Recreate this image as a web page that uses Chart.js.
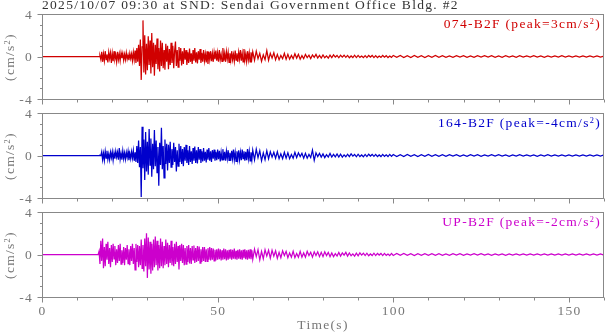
<!DOCTYPE html>
<html>
<head>
<meta charset="utf-8">
<script src="https://cdn.jsdelivr.net/npm/chart.js@4.4.1/dist/chart.umd.min.js"></script>
<style>
  html, body { margin: 0; padding: 0; background: #fff; }
  #wrap { position: relative; width: 605px; height: 334px; overflow: hidden; }
  #wrap canvas { position: absolute; left: 0; top: 0; }
  .txt {
    position: absolute; white-space: nowrap;
    font-family: "Liberation Serif", "DejaVu Serif", serif;
    font-size: 13.5px; line-height: 13.5px; letter-spacing: 1.3px;
  }
  .sup { font-size: 0.62em; position: relative; top: -0.5em; }
  .ytitle { color: #777; transform: translate(-50%, -50%) rotate(-90deg); }
</style>
</head>
<body>
<div id="wrap">
  <canvas id="p0" width="605" height="334"></canvas>
  <canvas id="p1" width="605" height="334"></canvas>
  <canvas id="p2" width="605" height="334"></canvas>
  <div class="txt" id="title" style="left:42px; top:-2px; color:#333;">2025/10/07 09:30 at SND: Sendai Government Office Bldg. #2</div>
  <div class="txt" id="xtitle" style="left:323px; top:318px; color:#777; transform:translateX(-50%);">Time(s)</div>
</div>

<script>
// channel names
const channels = ["074-B2F", "164-B2F", "UP-B2F"];

// axis ticks
const xTickLabels = [0, 50, 100, 150];
const xMinorStep = 10;
const yTickLabels = [-4, 0, 4];
const yMinorStep = 1;

// sampling of the stored pieces (seconds): fine / medium / coarse
const FINE_START = 16, FINE_DT = 0.25;   // 16 .. 59.75
const MID_START = 60, MID_DT = 0.5;      // 60 .. 99.5
const TAIL_START = 100, TAIL_DT = 1;     // 100 .. 160

// ---- 074-B2F (cm/s2) ----
const ew074Fine = [
  0, 0, 0.05, -0.3, 0.45, -0.5, 0.25, -0.4,
  0.5, -0.3, 0.2, -0.55, 0.4, -0.2, 0.35, -0.6,
  0.3, -0.45, 0.5, -0.25, 0.15, -0.5, 0.45, -0.3,
  0.25, -0.4, 0.35, -0.15, 0.3, -0.35, 0.2, -0.3,
  0.35, -0.25, 0.15, -0.35, 0.3, -0.2, 0.25, -0.4,
  0.4, -0.3, 0.55, -0.6, 0.8, -0.5, 1.1, -0.9,
  1.6, -2.2, 0.9, 3.4, -1.5, 2.0, -1.7, 1.2,
  -1.3, 1.9, -0.8, 1.5, -1.6, 2.2, -1.0, 1.3,
  -1.8, 1.1, -0.7, 1.7, -1.2, 0.8, -1.4, 1.5,
  -0.9, 1.3, -1.1, 0.6, -1.25, 1.2, -0.5, 1.0,
  -1.2, 0.7, -0.8, 1.3, -0.6, 1.0, -1.1, 0.5,
  1.4, -0.9, 0.6, -1.0, 0.9, -0.4, 0.8, -0.85,
  0.5, -0.7, 0.8, -0.3, 0.6, -0.8, 0.4, -0.6,
  0.75, -0.5, 0.3, -0.7, 0.6, -0.4, 0.8, -0.55,
  0.4, -0.65, 0.5, -0.3, 0.7, -0.6, 0.35, -0.5,
  0.6, -0.4, 0.25, -0.55, 0.5, -0.7, 0.45, -0.3,
  0.5, -0.45, 0.3, -0.5, 0.4, -0.25, 0.55, -0.4,
  0.35, -0.5, 0.6, -0.3, 0.2, -0.45, 0.8, -0.4,
  0.3, -0.5, 0.45, -0.25, 0.4, -0.55, 0.3, -0.35,
  0.5, -0.3, 0.2, -0.45, 0.55, -0.35, 0.3, -0.5,
  0.4, -0.25, 0.6, -0.4, 0.3, -0.5, 0.7, -0.35,
  0.25, -0.45, 0.5, -0.3, 0.35, -0.5, 0.4, -0.2
];
const ew074Mid = [
  0.45, -0.35, 0.5, -0.2, 0.3, -0.45, 0.15, -0.3, 0.55, -0.35,
  0.3, -0.15, 0.35, -0.3, 0.2, -0.3, 0.1, -0.2, 0.3, -0.25,
  0.2, -0.25, 0.1, -0.2, 0.25, -0.15, 0.2, -0.25, 0.08, -0.2,
  0.2, -0.1, 0.12, -0.2, 0.15, -0.08, 0.2, -0.15, 0.1, -0.15,
  0.15, -0.12, 0.06, -0.15, 0.12, -0.1, 0.15, -0.05, 0.1, -0.12,
  0.12, -0.06, 0.12, -0.08, 0.1, -0.12, 0.05, -0.1, 0.12, -0.1,
  0.1, -0.08, 0.05, -0.1, 0.08, -0.1, 0.1, -0.05, 0.1, -0.1,
  0.08, -0.1, 0.05, -0.08, 0.1, -0.06, 0.08, -0.1, 0.05, -0.08
];
const ew074Tail = [
  0.1, -0.08, 0.09, -0.1, 0.08, -0.09, 0.1, -0.08, 0.07, -0.09,
  0.08, -0.07, 0.09, -0.08, 0.07, -0.08, 0.06, -0.07, 0.08, -0.06,
  0.07, -0.07, 0.06, -0.08, 0.07, -0.06, 0.07, -0.06, 0.08, -0.07,
  0.06, -0.07, 0.07, -0.06, 0.06, -0.07, 0.07, -0.06, 0.06, -0.06,
  0.07, -0.06, 0.06, -0.07, 0.06, -0.05, 0.06, -0.06, 0.07, -0.05,
  0.06, -0.06, 0.05, -0.06, 0.06, -0.05, 0.06, -0.05, 0.05, -0.06,
  0.05
];

// ---- 164-B2F (cm/s2) ----
const ns164Fine = [
  0, 0, 0.02, -0.02, 0.35, -0.4, 0.2, -0.45,
  0.4, -0.25, 0.45, -0.35, 0.15, -0.4, 0.3, -0.2,
  0.35, -0.45, 0.25, -0.3, 0.4, -0.15, 0.3, -0.4,
  0.7, -0.35, 0.2, -0.4, 0.45, -0.3, 0.25, -0.35,
  0.3, -0.2, 0.4, -0.45, 0.2, -0.3, 0.35, -0.25,
  0.45, -0.5, 0.3, -0.6, 0.9, -0.7, 1.4, -1.1,
  0.8, -3.9, 2.7, -1.2, 1.5, -2.3, 2.2, -1.5,
  1.3, -1.8, 2.5, -0.9, 1.6, -2.0, 1.1, -1.3,
  2.4, -1.0, 1.4, -1.6, 0.8, -2.85, 1.2, -0.9,
  2.6, -1.3, 0.9, -2.1, 1.5, -0.8, 1.1, -1.4,
  1.0, -0.7, 1.3, -1.1, 0.6, -0.9, 1.2, -0.6,
  0.8, -1.5, 0.5, -1.0, 1.1, -0.6, 0.9, -0.8,
  0.6, -1.0, 0.8, -0.5, 1.0, -0.7, 0.5, -0.9,
  0.9, -0.6, 0.4, -0.8, 0.7, -0.5, 0.85, -0.7,
  0.5, -0.75, 0.8, -0.4, 0.6, -0.7, 0.4, -0.55,
  0.7, -0.5, 0.35, -0.65, 0.55, -0.4, 0.7, -0.5,
  0.4, -0.6, 0.5, -0.3, 0.55, -0.5, 0.35, -0.45,
  0.55, -0.35, 0.45, -0.55, 0.3, -0.4, 0.6, -0.45,
  0.35, -0.5, 0.4, -0.3, 0.5, -0.45, 0.25, -0.5,
  0.45, -0.3, 0.55, -0.4, 0.3, -0.55, 0.4, -0.35,
  0.5, -0.4, 0.3, -0.45, 0.55, -0.3, 0.4, -0.5,
  0.35, -0.45, 0.6, -0.3, 0.4, -0.5, 0.3, -0.4
];
const ns164Mid = [
  0.5, -0.4, 0.6, -0.2, 0.45, -0.5, 0.25, -0.4, 0.45, -0.3,
  0.35, -0.15, 0.3, -0.25, 0.35, -0.3, 0.15, -0.3, 0.3, -0.25,
  0.25, -0.3, 0.1, -0.25, 0.3, -0.2, 0.25, -0.1, 0.2, -0.25,
  0.2, -0.25, 0.1, -0.2, 0.5, -0.45, 0.25, -0.1, 0.2, -0.15,
  0.15, -0.2, 0.08, -0.15, 0.2, -0.15, 0.1, -0.12, 0.15, -0.15,
  0.12, -0.15, 0.06, -0.12, 0.12, -0.1, 0.15, -0.06, 0.1, -0.12,
  0.12, -0.1, 0.05, -0.12, 0.1, -0.1, 0.12, -0.05, 0.1, -0.08,
  0.1, -0.1, 0.05, -0.1, 0.1, -0.08, 0.06, -0.1, 0.1, -0.08
];
const ns164Tail = [
  0.09, -0.1, 0.08, -0.09, 0.1, -0.08, 0.08, -0.09, 0.07, -0.08,
  0.09, -0.07, 0.08, -0.08, 0.07, -0.07, 0.08, -0.06, 0.07, -0.07,
  0.06, -0.07, 0.07, -0.06, 0.07, -0.07, 0.06, -0.06, 0.07, -0.06,
  0.07, -0.06, 0.06, -0.07, 0.06, -0.06, 0.07, -0.05, 0.06, -0.06,
  0.06, -0.07, 0.05, -0.06, 0.07, -0.06, 0.05, -0.06, 0.06, -0.05,
  0.06, -0.05, 0.06, -0.06, 0.05, -0.06, 0.05, -0.05, 0.06, -0.05,
  0.05
];

// ---- UP-B2F (cm/s2) ----
const udFine = [
  0, 0.3, -0.9, 1.3, -0.6, 1.5, -1.3, 0.7,
  -1.1, 1.0, -0.5, 1.2, -0.9, 0.6, -1.2, 0.9,
  -0.7, 1.0, -0.4, 0.8, -1.0, 0.5, -0.8, 0.9,
  -0.6, 1.0, -0.9, 0.4, -0.8, 0.7, -1.0, 0.6,
  -0.5, 0.9, -0.85, 0.5, -1.0, 0.8, -0.6, 1.0,
  -0.9, 0.6, -1.45, 1.0, -0.7, 0.9, -1.2, 0.8,
  -1.0, 1.4, -1.3, 0.9, -1.6, 1.5, -1.1, 2.0,
  -2.2, 1.6, -1.4, 1.2, -1.8, 1.0, -1.5, 1.4,
  -1.2, 1.7, -1.0, 1.3, -1.5, 0.9, -1.3, 1.5,
  -1.1, 1.2, -1.3, 0.8, -1.0, 1.4, -0.9, 1.1,
  -1.2, 0.9, -0.8, 1.3, -1.0, 0.7, -1.1, 1.0,
  -0.9, 1.2, -0.7, 0.8, -1.4, 0.9, -0.6, 1.0,
  -0.8, 0.9, -1.0, 0.6, -0.9, 0.8, -0.7, 0.9,
  -0.85, 0.6, -0.9, 0.8, -0.5, 0.85, -0.8, 0.6,
  -0.7, 0.8, -0.6, 0.75, -0.8, 0.5, -0.7, 0.7,
  -0.6, 0.7, -0.7, 0.5, -0.65, 0.6, -0.5, 0.7,
  -0.55, 0.6, -0.5, 0.55, -0.6, 0.45, -0.55, 0.5,
  -0.5, 0.55, -0.45, 0.5, -0.55, 0.4, -0.5, 0.55,
  -0.45, 0.5, -0.55, 0.4, -0.5, 0.45, -0.4, 0.5,
  -0.5, 0.45, -0.4, 0.55, -0.45, 0.35, -0.5, 0.45,
  -0.4, 0.5, -0.45, 0.4, -0.5, 0.45, -0.35, 0.5,
  -0.45, 0.4, -0.5, 0.45, -0.4, 0.5, -0.45, 0.4
];
const udMid = [
  -0.45, 0.5, -0.2, 0.45, -0.5, 0.3, -0.4, 0.45, -0.15, 0.4,
  -0.35, 0.4, -0.15, 0.35, -0.35, 0.2, -0.3, 0.35, -0.1, 0.3,
  -0.3, 0.15, -0.25, 0.3, -0.3, 0.1, -0.25, 0.3, -0.25, 0.15,
  -0.25, 0.3, -0.1, 0.2, -0.25, 0.25, -0.1, 0.25, -0.2, 0.2,
  -0.2, 0.25, -0.1, 0.2, -0.2, 0.15, -0.2, 0.08, -0.15, 0.2,
  -0.15, 0.15, -0.06, 0.2, -0.15, 0.15, -0.12, 0.06, -0.15, 0.12,
  -0.12, 0.15, -0.06, 0.12, -0.1, 0.12, -0.12, 0.05, -0.1, 0.12,
  -0.1, 0.1, -0.05, 0.1, -0.1, 0.1, -0.08, 0.05, -0.1, 0.1
];
const udTail = [
  -0.09, 0.1, -0.08, 0.09, -0.08, 0.08, -0.09, 0.07, -0.08, 0.08,
  -0.07, 0.08, -0.07, 0.07, -0.08, 0.06, -0.07, 0.07, -0.06, 0.07,
  -0.07, 0.06, -0.06, 0.07, -0.06, 0.07, -0.06, 0.06, -0.07, 0.06,
  -0.06, 0.06, -0.07, 0.05, -0.06, 0.06, -0.05, 0.06, -0.06, 0.05,
  -0.06, 0.06, -0.05, 0.06, -0.05, 0.06, -0.06, 0.05, -0.05, 0.06,
  -0.05, 0.05, -0.06, 0.05, -0.05, 0.05, -0.06, 0.05, -0.05, 0.05,
  -0.05
];

const traces = [
  { fine: ew074Fine, mid: ew074Mid, tail: ew074Tail, color: "#d00000" },
  { fine: ns164Fine, mid: ns164Mid, tail: ns164Tail, color: "#0000cc" },
  { fine: udFine,    mid: udMid,    tail: udTail,    color: "#cc00cc" }
];

// plot boxes on the page
const PLOT_LEFT = 42, PLOT_RIGHT = 604, PAGE_H = 334;
const panelBox = [
  { top: 14,  bottom: 99 },
  { top: 113, bottom: 198 },
  { top: 212, bottom: 297 }
];

const AXIS_COLOR = "#888";
const TICK_TEXT = "#777";
const FONT = '13.5px "Liberation Serif", "DejaVu Serif", serif';

function toPoints(tr) {
  const pts = [{ x: 0, y: 0 }];
  tr.fine.forEach((v, i) => pts.push({ x: FINE_START + i * FINE_DT, y: v }));
  tr.mid.forEach((v, i) => pts.push({ x: MID_START + i * MID_DT, y: v }));
  tr.tail.forEach((v, i) => pts.push({ x: TAIL_START + i * TAIL_DT, y: v }));
  return pts;
}

function signedPeak(values) {
  let p = 0;
  values.forEach(v => { if (Math.abs(v) > Math.abs(p)) p = v; });
  return p;
}

// frame, outward ticks and tick labels
const frameAxes = {
  id: "frameAxes",
  afterDraw(chart, args, opts) {
    const ctx = chart.ctx;
    const a = chart.chartArea;
    const xs = chart.scales.x, ys = chart.scales.y;
    ctx.save();
    ctx.strokeStyle = AXIS_COLOR;
    ctx.lineWidth = 1;
    ctx.strokeRect(Math.round(a.left) + 0.5, Math.round(a.top) + 0.5,
                   Math.round(a.right - a.left) - 1, Math.round(a.bottom - a.top));

    ctx.beginPath();
    for (let v = ys.min; v <= ys.max; v += yMinorStep) {
      const y = Math.round(ys.getPixelForValue(v)) + 0.5;
      const len = yTickLabels.includes(v) ? 5 : 2.5;
      ctx.moveTo(a.left + 0.5, y);
      ctx.lineTo(a.left + 0.5 - len, y);
    }
    for (let t = xs.min; t <= xs.max; t += xMinorStep) {
      const x = Math.round(xs.getPixelForValue(t)) + 0.5;
      const len = xTickLabels.includes(t) ? 5 : 3;
      ctx.moveTo(x, a.bottom + 0.5);
      ctx.lineTo(x, a.bottom + 0.5 + len);
    }
    ctx.stroke();

    ctx.fillStyle = TICK_TEXT;
    ctx.font = FONT;
    if ("letterSpacing" in ctx) ctx.letterSpacing = "1.3px";
    ctx.textAlign = "right";
    ctx.textBaseline = "middle";
    yTickLabels.forEach(v => {
      ctx.fillText(String(v), a.left - 9, ys.getPixelForValue(v) + 1);
    });
    if (opts.xLabels) {
      ctx.textAlign = "center";
      ctx.textBaseline = "alphabetic";
      xTickLabels.forEach(t => {
        ctx.fillText(String(t), xs.getPixelForValue(t) + 0.6, a.bottom + 18);
      });
    }
    ctx.restore();
  }
};

const wrap = document.getElementById("wrap");

traces.forEach((tr, i) => {
  const box = panelBox[i];

  new Chart(document.getElementById("p" + i), {
    type: "line",
    data: {
      datasets: [{
        data: toPoints(tr),
        borderColor: tr.color,
        borderWidth: 1.25,
        pointRadius: 0,
        tension: 0,
        fill: false
      }]
    },
    options: {
      responsive: false,
      animation: false,
      events: [],
      layout: {
        padding: { left: PLOT_LEFT, right: 605 - PLOT_RIGHT, top: box.top, bottom: PAGE_H - box.bottom }
      },
      plugins: {
        legend: { display: false },
        tooltip: { enabled: false },
        frameAxes: { xLabels: i === traces.length - 1 }
      },
      scales: {
        x: { type: "linear", min: 0, max: 160, display: false },
        y: { type: "linear", min: -4, max: 4, display: false }
      }
    },
    plugins: [frameAxes]
  });

  // channel label with its peak value
  const peak = Math.round(signedPeak(tr.fine.concat(tr.mid, tr.tail)));
  const lab = document.createElement("div");
  lab.className = "txt";
  lab.style.right = (605 - 601) + "px";
  lab.style.top = (box.top + 3) + "px";
  lab.style.color = tr.color;
  lab.innerHTML = channels[i] + " (peak=" + peak + "cm/s<span class=\"sup\">2</span>)";
  wrap.appendChild(lab);

  const yt = document.createElement("div");
  yt.className = "txt ytitle";
  yt.style.left = "11px";
  yt.style.top = ((box.top + box.bottom) / 2) + "px";
  yt.innerHTML = "(cm/s<span class=\"sup\">2</span>)";
  wrap.appendChild(yt);
});
</script>
</body>
</html>
